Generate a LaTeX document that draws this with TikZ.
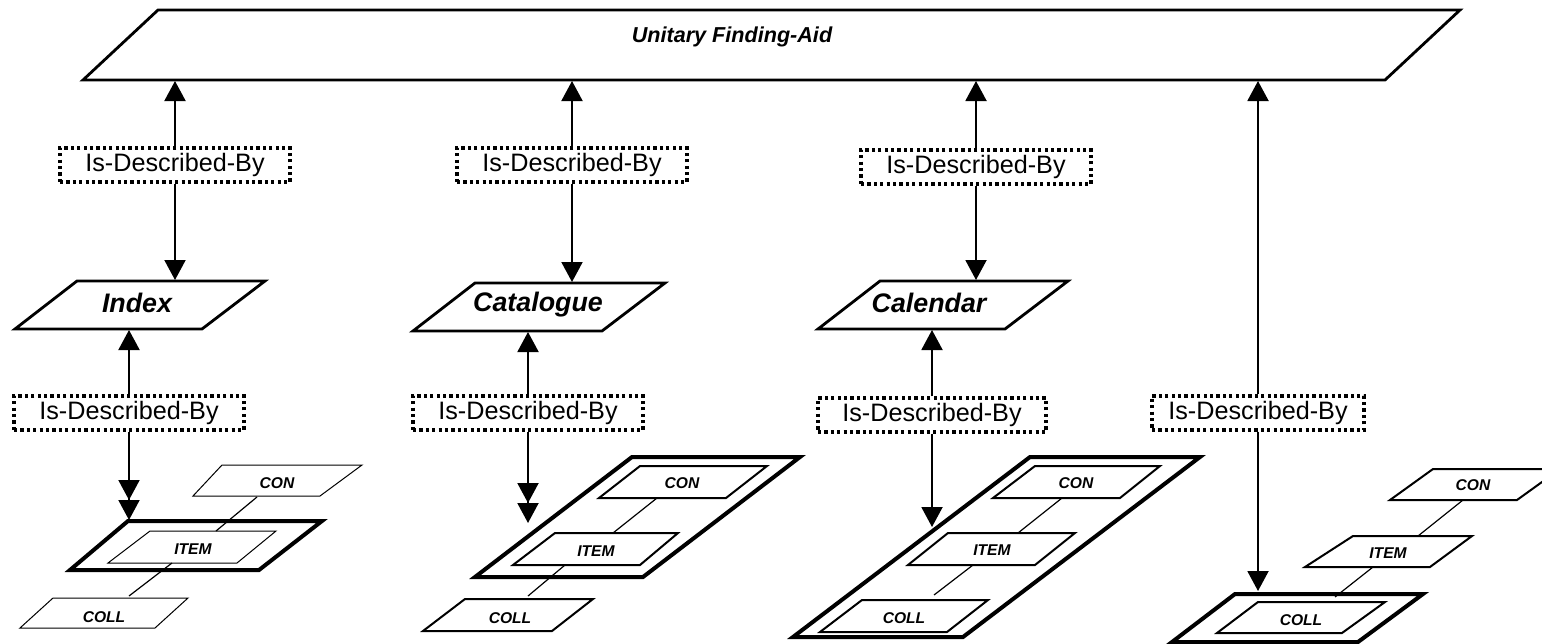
\documentclass[tikz,border=0pt]{standalone}
\usepackage{fontspec}
\setmainfont{Liberation Sans}
\usetikzlibrary{arrows.meta}
\begin{document}
\begin{tikzpicture}[x=0.5pt,y=-0.5pt,
  tip/.style={line width=1pt,-{Triangle[length=10pt,width=10.5pt]}},
  dtip/.style={line width=1pt,-{Triangle[length=10pt,width=10.5pt,sep=0pt]Triangle[length=10pt,width=10.5pt]}},
  frame/.style={line width=1.4pt, line join=miter},
  heavy/.style={line width=2pt, line join=miter},
  medium/.style={line width=1pt, line join=miter},
  thinbox/.style={line width=0.5pt, line join=miter},
  link/.style={line width=0.6pt},
  dbox/.style={draw, line width=1.6pt, dash pattern=on 1.6pt off 1.6pt, fill=white, minimum height=17pt, inner sep=0pt, font=\fontsize{12.6}{15}\selectfont},
  big/.style={inner sep=0pt, font=\fontsize{13.4}{15}\selectfont\bfseries\itshape},
  title/.style={inner sep=0pt, font=\fontsize{10.8}{13}\selectfont\bfseries\itshape},
  small/.style={inner sep=0pt, font=\fontsize{7.8}{9}\selectfont\bfseries\itshape}
]
\useasboundingbox (0,0) rectangle (1542,643);

% ---------- top finding aid ----------
\draw[frame] (158,10) -- (1460,10) -- (1385,80) -- (83,80) -- cycle;
\node[title] (ufa) at (732,37) {Unitary Finding-Aid};

% ---------- middle finding aids ----------
\draw[frame] (77,281) -- (265,281) -- (202,329) -- (15,329) -- cycle;
\node[big] (idx) at (137,303) {Index};
\draw[frame] (475,283) -- (665,283) -- (602,331) -- (413,331) -- cycle;
\node[big] (cat) at (538,305) {Catalogue};
\draw[frame] (880,281) -- (1068,281) -- (1005,329) -- (818,329) -- cycle;
\node[big] (cal) at (929,303) {Calendar};

% ---------- connection coordinates ----------
\coordinate (t1) at (175,81);
\coordinate (t2) at (572,81);
\coordinate (t3) at (976,81);
\coordinate (t4) at (1258,81);
\coordinate (i1top) at (175,280);
\coordinate (c2top) at (572,282);
\coordinate (c3top) at (976,280);
\coordinate (i1bot) at (129,330);
\coordinate (c2bot) at (528,332);
\coordinate (c3bot) at (932,330);
\coordinate (g1) at (129,520);
\coordinate (g2) at (528,523);
\coordinate (g3) at (932,527);
\coordinate (g4) at (1258,591);

% ---------- relation boxes ----------
\node[dbox, minimum width=115pt] (r1u) at (175,165) {Is-Described-By};
\node[dbox, minimum width=115pt] (r2u) at (572,165) {Is-Described-By};
\node[dbox, minimum width=115pt] (r3u) at (976,167) {Is-Described-By};
\node[dbox, minimum width=115pt] (r1l) at (129,413) {Is-Described-By};
\node[dbox, minimum width=115pt] (r2l) at (528,413) {Is-Described-By};
\node[dbox, minimum width=114pt] (r3l) at (932,415) {Is-Described-By};
\node[dbox, minimum width=106pt] (r4) at (1258,413) {Is-Described-By};

% ---------- arrows ----------
\draw[tip] (r1u.north) -- (t1);
\draw[tip] (r1u.south) -- (i1top);
\draw[tip] (r2u.north) -- (t2);
\draw[tip] (r2u.south) -- (c2top);
\draw[tip] (r3u.north) -- (t3);
\draw[tip] (r3u.south) -- (c3top);
\draw[tip] (r1l.north) -- (i1bot);
\draw[tip] (r2l.north) -- (c2bot);
\draw[tip] (r3l.north) -- (c3bot);
\draw[tip] (r4.north) -- (t4);
\draw[dtip] (r1l.south) -- (g1);
\draw[dtip] (r2l.south) -- (g2);
\draw[tip] (r3l.south) -- (g3);
\draw[tip] (r4.south) -- (g4);

% ---------- column 1 (Index): ITEM level ----------
\draw[heavy] (128,521) -- (322,521) -- (259,570) -- (70,570) -- cycle;
\draw[thinbox] (150,531) -- (276,531) -- (237,563) -- (108,563) -- cycle;
\draw[thinbox] (222,465) -- (362,465) -- (320,496) -- (193,496) -- cycle;
\draw[thinbox] (53,598) -- (188,598) -- (155,628) -- (20,628) -- cycle;
\node[small] (con1) at (277,483) {CON};
\node[small] (item1) at (193,549) {ITEM};
\node[small] (coll1) at (104,617) {COLL};
\coordinate (con1b) at (257,497);
\coordinate (item1t) at (216,531);
\coordinate (item1b) at (172,563);
\coordinate (coll1t) at (129,596);
\draw[link] (con1b) -- (item1t);
\draw[link] (item1b) -- (coll1t);

% ---------- column 2 (Catalogue): COLL level ----------
\draw[heavy] (632,457) -- (800,457) -- (643,577) -- (475,577) -- cycle;
\draw[medium] (640,466) -- (767,466) -- (726,498) -- (599,498) -- cycle;
\draw[medium] (555,533) -- (678,533) -- (640,565) -- (513,565) -- cycle;
\draw[medium] (465,599) -- (593,599) -- (552,631) -- (423,631) -- cycle;
\node[small] (con2) at (682,483) {CON};
\node[small] (item2) at (596,551) {ITEM};
\node[small] (coll2) at (510,618) {COLL};
\coordinate (con2b) at (657,498);
\coordinate (item2t) at (613,533);
\coordinate (item2b) at (565,565);
\coordinate (coll2t) at (528,596);
\draw[link] (con2b) -- (item2t);
\draw[link] (item2b) -- (coll2t);

% ---------- column 3 (Calendar): CON level ----------
\draw[heavy] (1030,457) -- (1200,457) -- (963,637) -- (793,637) -- cycle;
\draw[medium] (1035,466) -- (1160,466) -- (1120,498) -- (993,498) -- cycle;
\draw[medium] (948,533) -- (1075,533) -- (1035,565) -- (908,565) -- cycle;
\draw[medium] (862,600) -- (988,600) -- (947,632) -- (820,632) -- cycle;
\node[small] (con3) at (1076,483) {CON};
\node[small] (item3) at (992,550) {ITEM};
\node[small] (coll3) at (904,618) {COLL};
\coordinate (con3b) at (1062,498);
\coordinate (item3t) at (1018,533);
\coordinate (item3b) at (973,565);
\coordinate (coll3t) at (934,595);
\draw[link] (con3b) -- (item3t);
\draw[link] (item3b) -- (coll3t);

% ---------- column 4 (direct): COLL ----------
\draw[heavy] (1235,594) -- (1423,594) -- (1358,642) -- (1172,642) -- cycle;
\draw[medium] (1258,602) -- (1385,602) -- (1342,633) -- (1217,633) -- cycle;
\draw[medium] (1353,536) -- (1472,536) -- (1430,567) -- (1305,567) -- cycle;
\draw[medium] (1433,469) -- (1560,469) -- (1517,500) -- (1390,500) -- cycle;
\node[small] (con4) at (1473,485) {CON};
\node[small] (item4) at (1388,553) {ITEM};
\node[small] (coll4) at (1301,620) {COLL};
\coordinate (con4b) at (1463,500);
\coordinate (item4t) at (1418,536);
\coordinate (item4b) at (1373,567);
\coordinate (coll4t) at (1335,597);
\draw[link] (con4b) -- (item4t);
\draw[link] (item4b) -- (coll4t);
\end{tikzpicture}
\end{document}
